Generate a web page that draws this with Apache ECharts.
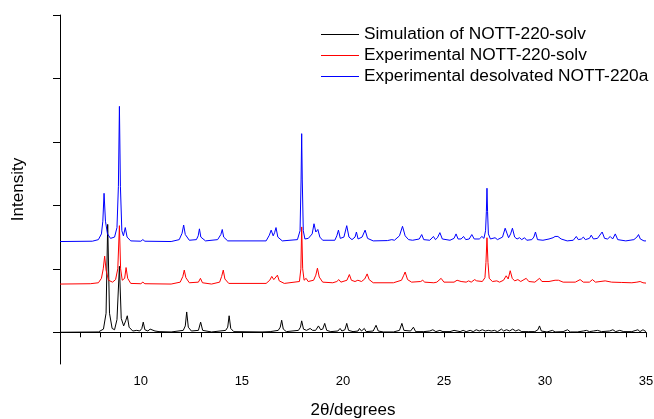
<!DOCTYPE html>
<html>
<head>
<meta charset="utf-8">
<script src="https://cdn.jsdelivr.net/npm/echarts@6/dist/echarts.min.js"></script>
<style>
  html, body { margin: 0; padding: 0; background: #fff; }
  #chart { width: 654px; height: 419px; }
</style>
</head>
<body>
<div id="chart"></div>
<script>
// 2θ / intensity pairs (the plotted offset is already in the values)
var seriesNames = ['Simulation of NOTT-220-solv', 'Experimental NOTT-220-solv', 'Experimental desolvated NOTT-220a']
var seriesColors = ['#000000', '#ff0000', '#0000ff']
var xTicks = [10, 15, 20, 25, 30, 35]
var yTicks = [0, 1, 2, 3, 4, 5]

var simulation = [
  [6,0],[7.9,0.005],[8.15,0.05],[8.28,0.3],[8.36,1.70],[8.45,0.3],[8.58,0.06],[8.7,0.04],[8.82,0.2],[8.94,1.04],
  [9.03,0.22],[9.15,0.1],[9.25,0.18],[9.33,0.26],[9.42,0.08],[9.6,0.02],[9.8,0.03],[9.95,0.02],[10.05,0.06],[10.12,0.16],
  [10.2,0.04],[10.35,0.02],[10.46,0.05],[10.55,0.02],[10.7,0.02],[10.79,0.05],[10.9,0.01],[11.5,0.005],[12.1,0.03],[12.2,0.1],
  [12.27,0.32],[12.35,0.08],[12.5,0.02],[12.85,0.03],[12.96,0.16],[13.06,0.03],[13.5,0.005],[14.2,0.03],[14.3,0.08],[14.37,0.26],
  [14.45,0.06],[14.6,0.01],[16.0,0.005],[16.4,0.01],[16.8,0.03],[16.9,0.08],[16.97,0.19],[17.05,0.05],[17.2,0.01],[17.8,0.03],
  [17.9,0.08],[17.96,0.18],[18.05,0.05],[18.2,0.03],[18.38,0.06],[18.5,0.03],[18.65,0.03],[18.79,0.1],[18.9,0.04],[19.0,0.05],
  [19.1,0.14],[19.2,0.03],[19.4,0.01],[19.75,0.02],[19.86,0.06],[19.95,0.02],[20.1,0.04],[20.19,0.14],[20.28,0.03],[20.5,0.01],
  [20.75,0.02],[20.82,0.06],[20.92,0.02],[21.0,0.02],[21.06,0.06],[21.15,0.01],[21.5,0.02],[21.64,0.11],[21.75,0.02],[22.0,0.005],
  [22.5,0.005],[22.8,0.03],[22.92,0.14],[23.02,0.03],[23.35,0.02],[23.49,0.08],[23.6,0.01],[24.0,0.01],[24.3,0.02],[24.45,0.04],
  [24.6,0.01],[24.8,0.03],[24.95,0.01],[25.3,0.01],[25.5,0.03],[25.65,0.02],[25.8,0.01],[25.95,0.03],[26.1,0.01],[26.3,0.03],
  [26.45,0.01],[26.6,0.04],[26.75,0.02],[26.9,0.04],[27.05,0.02],[27.2,0.03],[27.35,0.02],[27.5,0.03],[27.65,0.01],[27.85,0.05],
  [27.95,0.02],[28.1,0.04],[28.25,0.02],[28.4,0.05],[28.55,0.02],[28.7,0.04],[28.85,0.01],[29.2,0.01],[29.5,0.01],[29.65,0.04],
  [29.73,0.1],[29.82,0.02],[30.1,0.005],[30.37,0.03],[30.5,0.005],[30.9,0.01],[31.12,0.04],[31.25,0.005],[31.6,0.005],[31.9,0.02],
  [32.05,0.03],[32.2,0.01],[32.4,0.02],[32.6,0.03],[32.8,0.01],[33.2,0.02],[33.36,0.04],[33.5,0.01],[33.7,0.03],[33.9,0.01],
  [34.3,0.01],[34.5,0.03],[34.6,0.04],[34.7,0.01],[34.85,0.04],[35,0.01]
]

var experimental = [
  [6,0.76],[7.5,0.765],[7.9,0.78],[8.05,0.85],[8.14,1.0],[8.21,1.20],[8.28,0.98],[8.4,0.82],[8.6,0.79],[8.75,0.83],
  [8.86,1.0],[8.94,1.68],[9.0,1.0],[9.08,0.82],[9.2,0.85],[9.27,1.02],[9.35,0.85],[9.5,0.77],[10.0,0.765],[10.1,0.79],
  [10.2,0.765],[11.5,0.76],[11.95,0.79],[12.08,0.88],[12.15,0.98],[12.23,0.86],[12.4,0.78],[12.85,0.79],[12.95,0.85],[13.05,0.78],
  [13.5,0.76],[13.9,0.79],[14.0,0.88],[14.08,0.98],[14.16,0.84],[14.35,0.77],[16.2,0.77],[16.38,0.82],[16.48,0.88],[16.58,0.83],
  [16.67,0.86],[16.76,0.90],[16.85,0.81],[17.1,0.77],[17.85,0.8],[17.92,1.0],[17.96,1.66],[18.01,1.0],[18.08,0.82],[18.18,0.85],
  [18.28,0.8],[18.55,0.82],[18.66,0.9],[18.74,1.01],[18.83,0.87],[19.0,0.79],[19.5,0.78],[19.7,0.8],[19.8,0.83],[19.9,0.79],
  [20.2,0.82],[20.32,0.91],[20.42,0.82],[20.6,0.8],[20.74,0.82],[20.82,0.85],[20.92,0.8],[21.08,0.84],[21.2,0.92],[21.3,0.83],
  [21.5,0.78],[22.5,0.78],[22.9,0.82],[23.0,0.89],[23.08,0.95],[23.2,0.83],[23.4,0.79],[23.85,0.8],[23.95,0.82],[24.05,0.79],
  [24.5,0.78],[24.65,0.79],[24.86,0.85],[25.0,0.79],[25.5,0.79],[25.65,0.82],[25.74,0.85],[25.85,0.8],[26.1,0.79],[26.22,0.81],
  [26.35,0.79],[26.52,0.83],[26.62,0.81],[26.9,0.8],[27.03,0.86],[27.08,1.1],[27.13,1.49],[27.18,1.1],[27.24,0.85],[27.4,0.8],
  [27.62,0.81],[27.75,0.79],[27.95,0.82],[28.08,0.89],[28.18,0.84],[28.28,0.97],[28.38,0.85],[28.5,0.81],[28.66,0.83],[28.8,0.8],
  [29.07,0.85],[29.2,0.8],[29.5,0.79],[29.73,0.85],[29.85,0.8],[30.2,0.8],[30.5,0.82],[30.67,0.82],[30.9,0.79],[31.5,0.79],
  [31.74,0.83],[31.9,0.79],[32.2,0.79],[32.35,0.83],[32.5,0.79],[32.98,0.81],[33.3,0.79],[33.8,0.785],[34.3,0.78],[34.55,0.79],
  [34.71,0.8],[34.85,0.78],[35,0.775]
]

var desolvated = [
  [6,1.43],[7.6,1.435],[7.9,1.46],[8.05,1.55],[8.12,1.75],[8.18,2.19],[8.25,1.75],[8.35,1.55],[8.5,1.48],[8.7,1.5],
  [8.82,1.65],[8.89,2.3],[8.94,3.56],[8.99,2.3],[9.06,1.6],[9.14,1.52],[9.23,1.65],[9.32,1.5],[9.5,1.44],[10.0,1.435],
  [10.1,1.46],[10.2,1.435],[11.5,1.43],[11.9,1.46],[12.04,1.56],[12.12,1.69],[12.2,1.54],[12.4,1.45],[12.75,1.46],[12.84,1.52],
  [12.9,1.63],[12.97,1.5],[13.2,1.44],[13.8,1.46],[13.96,1.54],[14.03,1.62],[14.1,1.5],[14.3,1.44],[16.2,1.44],[16.36,1.53],
  [16.45,1.61],[16.55,1.52],[16.62,1.57],[16.69,1.65],[16.78,1.5],[17.0,1.44],[17.75,1.46],[17.88,1.6],[17.93,2.4],[17.96,3.13],
  [17.99,2.4],[18.04,1.6],[18.12,1.47],[18.29,1.48],[18.38,1.46],[18.48,1.55],[18.57,1.71],[18.66,1.58],[18.76,1.62],[18.86,1.5],
  [19.0,1.45],[19.6,1.45],[19.7,1.52],[19.78,1.61],[19.87,1.48],[20.05,1.5],[20.19,1.68],[20.3,1.5],[20.45,1.46],[20.6,1.5],
  [20.67,1.58],[20.75,1.47],[20.95,1.5],[21.1,1.61],[21.22,1.48],[21.5,1.44],[22.2,1.445],[22.42,1.46],[22.55,1.45],[22.8,1.52],
  [22.95,1.67],[23.08,1.52],[23.25,1.46],[23.45,1.45],[23.78,1.47],[23.9,1.54],[24.0,1.46],[24.3,1.45],[24.48,1.51],[24.58,1.46],
  [24.68,1.49],[24.8,1.57],[24.92,1.47],[25.3,1.45],[25.5,1.48],[25.6,1.55],[25.7,1.47],[25.85,1.47],[25.97,1.51],[26.08,1.46],
  [26.25,1.47],[26.38,1.54],[26.5,1.47],[26.75,1.47],[26.88,1.51],[26.98,1.48],[27.06,1.6],[27.1,1.9],[27.13,2.27],[27.16,1.9],
  [27.2,1.55],[27.3,1.47],[27.53,1.49],[27.65,1.46],[27.9,1.5],[28.03,1.64],[28.13,1.55],[28.2,1.49],[28.3,1.55],[28.39,1.64],
  [28.5,1.5],[28.62,1.47],[28.74,1.49],[28.85,1.46],[28.99,1.49],[29.1,1.45],[29.35,1.46],[29.45,1.5],[29.53,1.58],[29.63,1.46],
  [29.9,1.45],[30.2,1.47],[30.4,1.49],[30.5,1.51],[30.58,1.49],[30.64,1.51],[30.8,1.47],[31.1,1.44],[31.4,1.45],[31.55,1.51],
  [31.65,1.46],[31.8,1.47],[31.9,1.5],[32.0,1.46],[32.2,1.48],[32.29,1.53],[32.4,1.47],[32.6,1.48],[32.83,1.58],[32.95,1.48],
  [33.1,1.47],[33.23,1.51],[33.35,1.47],[33.48,1.55],[33.6,1.46],[34.0,1.44],[34.4,1.46],[34.55,1.5],[34.63,1.54],[34.72,1.47],
  [34.9,1.44],[35,1.44]
]

var myChart = echarts.init(document.getElementById('chart'), null, { renderer: 'canvas' })

var font = 'Liberation Sans, Arial, sans-serif'

function lineSeries(name, data, color) {
  return {
    name: name,
    type: 'line',
    data: data,
    showSymbol: false,
    symbol: 'none',
    silent: true,
    color: color,
    lineStyle: { color: color, width: 1 },
    itemStyle: { color: color }
  }
}

var option = {
  animation: false,
  backgroundColor: '#fff',
  color: seriesColors,
  grid: { left: 60, right: 8, top: 15, bottom: 55, outerBoundsMode: 'none', containLabel: false },
  legend: {
    orient: 'vertical',
    left: 316,
    top: 19,
    icon: 'rect',
    itemWidth: 38,
    itemHeight: 1,
    itemGap: 0,
    textStyle: { fontFamily: font, fontSize: 17.3, color: '#000', lineHeight: 21 },
    data: seriesNames.map(function (n, i) {
      return { name: n, itemStyle: { color: seriesColors[i] } }
    })
  },
  xAxis: {
    type: 'value',
    min: 6,
    max: 35,
    interval: 1,
    name: '2θ/degrees',
    nameLocation: 'middle',
    nameGap: 38,
    nameTextStyle: { fontFamily: font, fontSize: 17, color: '#000' },
    axisLine: { lineStyle: { color: '#000', width: 1 } },
    axisTick: { inside: false, length: 5, lineStyle: { color: '#000' } },
    axisLabel: {
      fontFamily: font, fontSize: 13, color: '#000', margin: 11,
      formatter: function (v) { return xTicks.indexOf(v) >= 0 ? String(v) : '' }
    },
    splitLine: { show: false }
  },
  yAxis: {
    type: 'value',
    min: -0.5,
    max: 5,
    name: 'Intensity',
    nameLocation: 'middle',
    nameGap: 33,
    nameTextStyle: { fontFamily: font, fontSize: 17, color: '#000' },
    axisLine: { show: true, lineStyle: { color: '#000', width: 1 } },
    axisTick: { show: true, inside: false, length: 7, customValues: yTicks, lineStyle: { color: '#000' } },
    axisLabel: { show: false },
    splitLine: { show: false }
  },
  series: [
    lineSeries(seriesNames[0], simulation, seriesColors[0]),
    lineSeries(seriesNames[1], experimental, seriesColors[1]),
    lineSeries(seriesNames[2], desolvated, seriesColors[2])
  ]
}

myChart.setOption(option)
</script>
</body>
</html>
